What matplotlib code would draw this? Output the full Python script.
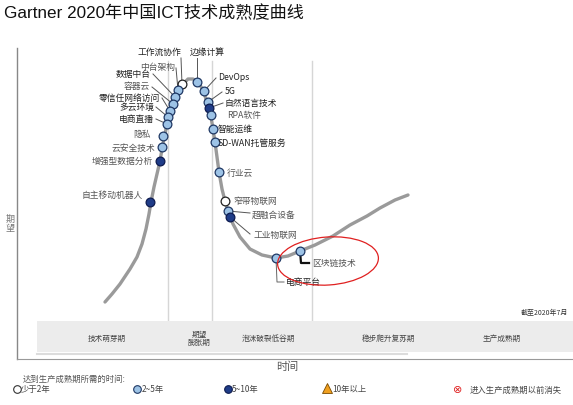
import matplotlib
matplotlib.use("Agg")
import matplotlib.pyplot as plt
from matplotlib.patches import Ellipse, Rectangle

plt.rcParams['font.family'] = ['Noto Sans CJK SC', 'DejaVu Sans']

# hype curve (pixel space, y grows downward)
curve_x = [105, 112, 120, 130, 137, 142, 146, 149, 151, 154, 157, 160, 162, 164, 166,
           168, 171, 174, 178, 183, 188, 193, 198, 203, 206, 209, 211, 213, 215, 217,
           219, 222, 225, 228, 233, 240, 250, 262, 276, 288, 300, 315, 333, 350, 367,
           380, 395, 408]
curve_y = [303, 295, 285, 270, 258, 245, 230, 215, 203, 188, 175, 162, 150, 140, 130,
           119, 110, 102, 91, 85, 80, 80, 83, 91, 100, 110, 118, 130, 143, 158,
           173, 190, 202, 212, 225, 238, 250, 256, 259, 257, 252, 246, 237, 226, 217,
           209, 201, 196]

tech_names = ['工作流协作', '中台架构', '数据中台', '容器云', '零信任网络访问', '多云环境',
              '电商直播', '隐私', '云安全技术', '增强型数据分析', '自主移动机器人',
              '边缘计算', 'DevOps', '5G', '自然语言技术', 'RPA软件', '智能运维',
              'SD-WAN托管服务', '行业云', '窄带物联网', '超融合设备', '工业物联网',
              '电商平台', '区块链技术']
tech_x = [182, 178, 175, 173, 170, 168, 167, 163, 162, 160, 150,
          197, 204, 208, 209, 211, 213, 215, 219, 225, 228, 230, 276, 300]
tech_y = [85, 91, 98, 105, 112, 118, 125, 137, 148, 162, 203,
          83, 92, 103, 109, 116, 130, 143, 173, 202, 212, 218, 259, 252]
tech_years = ['<2', '2-5', '2-5', '2-5', '2-5', '2-5', '2-5', '2-5', '2-5', '5-10', '5-10',
              '2-5', '2-5', '2-5', '5-10', '2-5', '2-5', '2-5', '2-5', '<2', '2-5', '5-10',
              '2-5', '2-5']

phase_names = ['技术萌芽期', '期望\n膨胀期', '泡沫破裂低谷期', '稳步爬升复苏期', '生产成熟期']
legend_labels = ['少于2年', '2~5年', '5~10年', '10年以上', '进入生产成熟期以前消失']

fill = {'<2': 'white', '2-5': '#9dc3e6', '5-10': '#1f3c88'}
edge = {'<2': '#222222', '2-5': '#1f3864', '5-10': '#0d1b4f'}

# label layout: (x, y, ha, leader start or None, L-shaped leader)
label_pos = [
    (159, 52, 'center', (181, 59), False),
    (175, 67, 'right', (176, 69), False),
    (151, 75, 'right', (153, 75), False),
    (150, 87, 'right', (152, 88), False),
    (160, 98, 'right', (162, 99), False),
    (154, 107, 'right', (156, 108), False),
    (154, 119, 'right', (156, 120), False),
    (151, 134, 'right', None, False),
    (155, 148, 'right', None, False),
    (153, 161, 'right', None, False),
    (143, 195, 'right', None, False),
    (207, 52, 'center', (197, 59), False),
    (218, 78, 'left', (216, 79), False),
    (225, 92, 'left', (222, 93), False),
    (225, 103, 'left', (223, 104), False),
    (227, 115, 'left', None, False),
    (218, 129, 'left', None, False),
    (218, 143, 'left', None, False),
    (227, 173, 'left', None, False),
    (233, 201, 'left', None, False),
    (252, 215, 'left', (250, 214), False),
    (253, 235, 'left', (250, 235), False),
    (286, 283, 'left', (284, 283), True),
    (312, 263, 'left', (309, 264), True),
]
dark_labels = {'工作流协作', '边缘计算', '数据中台', '零信任网络访问', '多云环境', '电商直播',
               'DevOps', '5G', '自然语言技术', '智能运维', 'SD-WAN托管服务', '电商平台'}

fig = plt.figure(figsize=(5.73, 4.06), dpi=100)
ax = fig.add_axes([0, 0, 1, 1])
ax.set_xlim(0, 573)
ax.set_ylim(406, 0)
ax.axis('off')

ax.text(4, 13, 'Gartner 2020年中国ICT技术成熟度曲线', fontsize=12.3,
        family=['Liberation Sans', 'Noto Sans CJK SC'], va='center', color='#111111')

# frame and axis
ax.plot([17, 17], [49, 360], color='#888888', lw=1)
ax.plot([17, 573], [360, 360], color='#999999', lw=0.8)
ax.text(10, 224, '期\n望', fontsize=6.5, color='#777777', ha='center', va='center',
        linespacing=1.1)

# phase separators
for xv in [168, 212, 312]:
    ax.plot([xv, xv], [62, 322], color='#d6d6d6', lw=1, zorder=1)

# phase band
ax.add_patch(Rectangle((37, 322), 540, 31, facecolor='#ececec', edgecolor='none', zorder=1))
ax.plot([37, 407], [354.5, 354.5], color='#dcdcdc', lw=1.5, zorder=1)
for name, px in zip(phase_names, [107, 199, 268, 388, 502]):
    ax.text(px, 339, name, fontsize=5.5, color='#444444', ha='center', va='center',
            linespacing=1.0)
ax.text(568, 313, '截至2020年7月', fontsize=5, color='#333333', ha='right', va='center')

ax.text(287, 367, '时间', fontsize=8, color='#555555', ha='center', va='center')

# curve
ax.plot(curve_x, curve_y, color='#9a9a9a', lw=2.4, solid_capstyle='round', zorder=2)

# leaders, dots, labels
for name, x, y, yr, (lx, ly, ha, lead, lshape) in zip(tech_names, tech_x, tech_y,
                                                      tech_years, label_pos):
    if lead is not None:
        if lshape:
            lc = '#111111' if name == '区块链技术' else '#666666'
            lw = 1.6 if name == '区块链技术' else 0.7
            ax.plot([x, x + 1, lead[0]], [y, lead[1], lead[1]], color=lc, lw=lw, zorder=3)
        else:
            ax.plot([lead[0], x], [lead[1], y], color='#555555', lw=0.7, zorder=3)
    ax.plot(x, y, 'o', ms=6.3, mfc=fill[yr], mec=edge[yr], mew=0.9, zorder=4)
    col = '#222222' if name in dark_labels else '#555555'
    ax.text(lx, ly, name, fontsize=6.3, color=col, ha=ha, va='center', zorder=5)

ax.add_patch(Ellipse((328, 262), 101, 48, angle=-4, facecolor='none', edgecolor='#e02020',
                     lw=0.9, zorder=6))

# legend
ax.text(23, 379, '达到生产成熟期所需的时间:', fontsize=6, color='#555555', va='center')
ly = 390
ax.plot(17, ly, 'o', ms=5.5, mfc='white', mec='#333333', mew=0.8)
ax.text(21, ly, legend_labels[0], fontsize=6, color='#444444', va='center')
ax.plot(137, ly, 'o', ms=5.5, mfc='#9dc3e6', mec='#1f3864', mew=0.8)
ax.text(142, ly, legend_labels[1], fontsize=6, color='#444444', va='center')
ax.plot(228, ly, 'o', ms=5.5, mfc='#1f3c88', mec='#0d1b4f', mew=0.8)
ax.text(232, ly, legend_labels[2], fontsize=6, color='#444444', va='center')
ax.plot(327, ly - 1, '^', ms=7, mfc='#f0a020', mec='#7a4a00', mew=0.6)
ax.text(332, ly, legend_labels[3], fontsize=6, color='#444444', va='center')
ax.text(458, ly, '⊗', fontsize=8, color='#e02020', ha='center', va='center',
        family='DejaVu Sans')
ax.text(470, ly, legend_labels[4], fontsize=6, color='#444444', va='center')

fig.savefig('out.png', dpi=100)
